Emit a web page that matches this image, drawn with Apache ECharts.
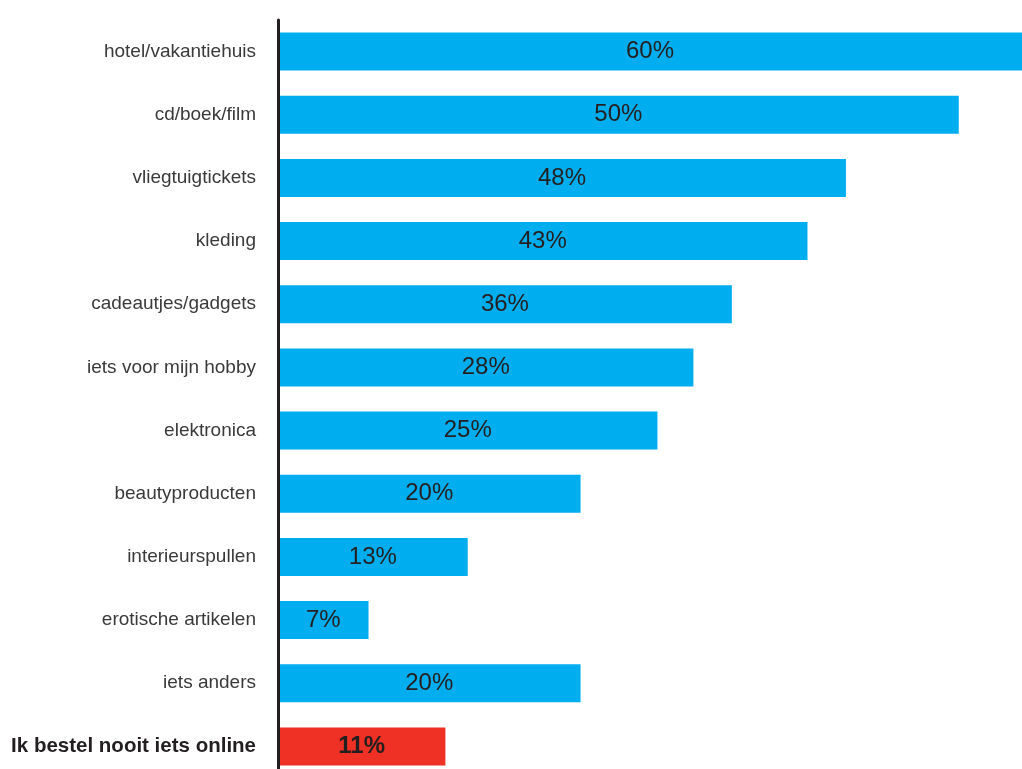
<!DOCTYPE html>
<html>
<head>
<meta charset="utf-8">
<style>
  html, body { margin: 0; padding: 0; background: #fff; }
  #chart { width: 1022px; height: 769px; }
</style>
<script src="https://cdn.jsdelivr.net/npm/echarts@6/dist/echarts.min.js"></script>
</head>
<body>
<div id="chart"></div>
<script>
// categorieen, van boven naar beneden
var categories = ['hotel/vakantiehuis', 'cd/boek/film', 'vliegtuigtickets', 'kleding',
    'cadeautjes/gadgets', 'iets voor mijn hobby', 'elektronica', 'beautyproducten',
    'interieurspullen', 'erotische artikelen', 'iets anders', 'Ik bestel nooit iets online'];
// percentages zoals in de labels
var shares = [60, 50, 48, 43, 36, 28, 25, 20, 13, 7, 20, 11];
// getekende lengte van de balken (zoals)
var barLengths = [60, 54.9, 45.8, 42.7, 36.6, 33.5, 30.6, 24.4, 15.3, 7.3, 24.4, 13.5];

var lastIndex = categories.length - 1;

var option = {
    animation: false,
    grid: {
        left: 278,
        right: 0,
        top: 20,
        bottom: -9,
        containLabel: false,
        outerBoundsMode: 'none'
    },
    xAxis: {
        type: 'value',
        min: 0,
        max: 60,
        show: false
    },
    yAxis: {
        type: 'category',
        inverse: true,
        z: 5,
        data: categories,
        axisLine: {
            lineStyle: { color: '#231f20', width: 3 }
        },
        axisTick: { show: false },
        axisLabel: {
            margin: 22,
            fontFamily: '"Liberation Sans Narrow", "Liberation Sans", sans-serif',
            fontSize: 19,
            color: '#3a3a3a',
            formatter: function (value, index) {
                return index === lastIndex ? '{b|' + value + '}' : value;
            },
            rich: {
                b: {
                    fontFamily: '"Liberation Sans Narrow", "Liberation Sans", sans-serif',
                    fontSize: 20.5,
                    fontWeight: 'bold',
                    color: '#231f20'
                }
            }
        }
    },
    series: [{
        type: 'bar',
        barWidth: 38,
        z: 2,
        data: barLengths.map(function (v, i) {
            return {
                value: v,
                itemStyle: { color: i === lastIndex ? '#ee3124' : '#00adef' },
                label: i === lastIndex ? { fontWeight: 'bold' } : {}
            };
        }),
        label: {
            show: true,
            position: 'inside',
            fontFamily: '"Liberation Sans", Arial, sans-serif',
            fontSize: 24,
            color: '#231f20',
            formatter: function (p) {
                return shares[p.dataIndex] + '%';
            }
        }
    }]
};

var myChart = echarts.init(document.querySelector('#chart'));
myChart.setOption(option);
</script>
</body>
</html>
